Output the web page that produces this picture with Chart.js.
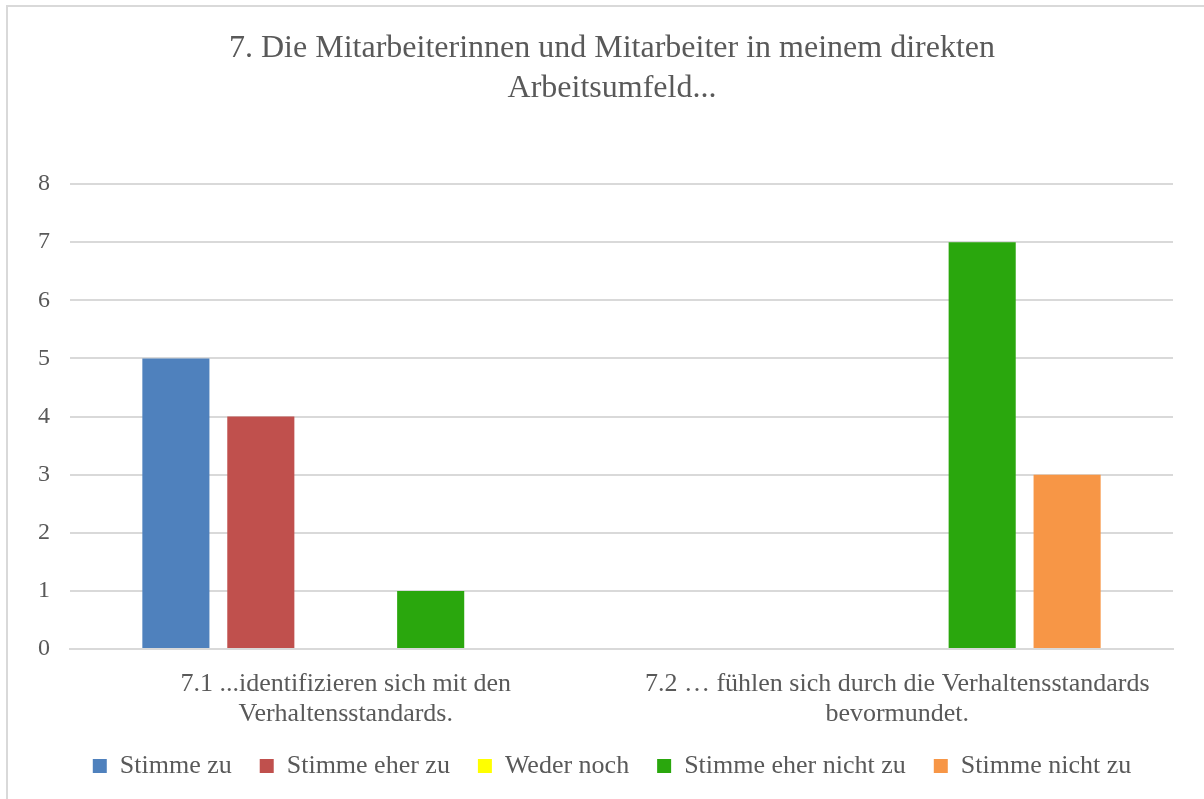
<!DOCTYPE html>
<html>
<head>
<meta charset="utf-8">
<script src="https://cdn.jsdelivr.net/npm/chart.js@4"></script>
<style>
  body { margin: 0; background: #fff; overflow: hidden; }
  .frame {
    position: absolute; left: 6px; top: 5px; width: 1230px; height: 830px;
    border: 2px solid #d9d9d9; box-sizing: border-box;
  }
  .wrap { position: absolute; left: 0; top: 0; width: 1204px; height: 799px; }
</style>
</head>
<body>
<div class="frame"></div>
<div class="wrap"><canvas id="myChart" width="1204" height="799"></canvas></div>
<script>
const canvasChart = document.getElementById("myChart");

const categories = [
  ["7.1 ...identifizieren sich mit den", "Verhaltensstandards."],
  ["7.2 \u2026 fühlen sich durch die Verhaltensstandards", "bevormundet."],
];
const seriesNames = ["Stimme zu", "Stimme eher zu", "Weder noch", "Stimme eher nicht zu", "Stimme nicht zu"];
const stimmeZu = [5, 0];
const stimmeEherZu = [4, 0];
const wederNoch = [0, 0];
const stimmeEherNichtZu = [1, 7];
const stimmeNichtZu = [0, 3];
const seriesColors = ["#4f81bd", "#c0504d", "#ffff00", "#2aa70d", "#f79646"];
const yTicks = [0, 1, 2, 3, 4, 5, 6, 7, 8];

const textColor = "#595959";
const serif = "'Liberation Serif', 'Times New Roman', serif";

const seriesValues = [stimmeZu, stimmeEherZu, wederNoch, stimmeEherNichtZu, stimmeNichtZu];

const datasets = seriesNames.map((name, i) => ({
  label: name,
  data: seriesValues[i],
  backgroundColor: seriesColors[i],
  borderWidth: 0,
  categoryPercentage: 0.77,
  barPercentage: 0.79,
}));

const myChart = new Chart(canvasChart, {
  type: "bar",
  data: { labels: categories, datasets: datasets },
  options: {
    responsive: false,
    animation: false,
    layout: { padding: { left: 20, right: 0, top: 0, bottom: 10 } },
    plugins: {
      title: {
        display: true,
        text: ["7. Die Mitarbeiterinnen und Mitarbeiter in meinem direkten", "Arbeitsumfeld..."],
        color: textColor,
        font: { family: serif, size: 32, weight: "normal", lineHeight: 1.25 },
        padding: { top: 29, bottom: 75 },
      },
      legend: {
        position: "bottom",
        labels: {
          color: textColor,
          font: { family: serif, size: 26 },
          boxWidth: 14,
          boxHeight: 14,
          padding: 28,
        },
      },
      tooltip: { enabled: false },
    },
    scales: {
      x: {
        grid: { display: false, drawTicks: false },
        border: { color: "#d9d9d9", width: 2 },
        ticks: {
          color: textColor,
          font: { family: serif, size: 26, lineHeight: 1.15 },
          padding: 20,
          maxRotation: 0,
          autoSkip: false,
        },
        afterFit: (scale) => { scale.height = 76; },
      },
      y: {
        min: 0,
        max: 8,
        grid: { color: "#d9d9d9", lineWidth: 2, drawTicks: false },
        border: { display: false },
        afterBuildTicks: (scale) => { scale.ticks = yTicks.map((v) => ({ value: v })); },
        ticks: {
          color: textColor,
          font: { family: serif, size: 24 },
          padding: 20,
        },
        afterFit: (scale) => { scale.width = 50; },
      },
      // empty axis on the right to leave the margin after the plot area
      yRight: {
        position: "right",
        grid: { display: false, drawTicks: false },
        border: { display: false },
        ticks: { display: false },
        afterFit: (scale) => { scale.width = 31; },
      },
    },
  },
});
</script>
</body>
</html>
